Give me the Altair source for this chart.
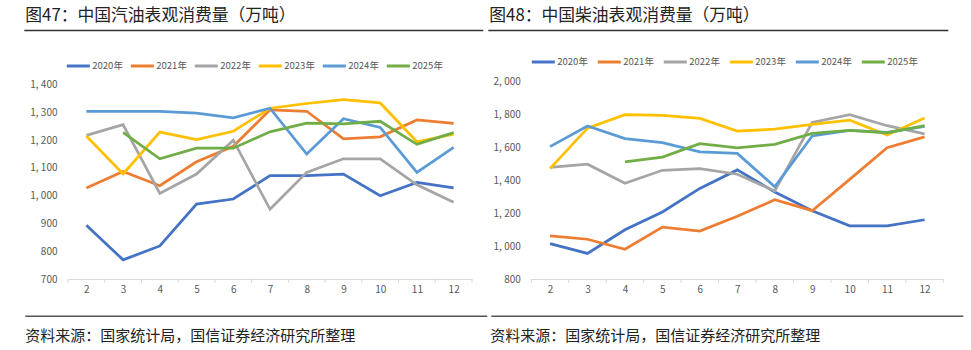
import altair as alt
import pandas as pd

FONT = "Noto Sans CJK SC"

months = [2, 3, 4, 5, 6, 7, 8, 9, 10, 11, 12]
years = ["2020年", "2021年", "2022年", "2023年", "2024年", "2025年"]
colors = ["#4472C4", "#ED7D31", "#A5A5A5", "#FFC000", "#5B9BD5", "#70AD47"]

# 汽油表观消费量（万吨）
g2020 = [894, 769, 819, 970, 988, 1072, 1072, 1078, 1000, 1048, 1028]
g2021 = [1028, 1087, 1036, 1122, 1178, 1309, 1304, 1205, 1212, 1273, 1260]
g2022 = [1217, 1256, 1008, 1078, 1200, 951, 1084, 1133, 1133, 1039, 976]
g2023 = [1215, 1078, 1229, 1202, 1232, 1315, 1332, 1346, 1334, 1194, 1222]
g2024 = [1304, 1304, 1304, 1297, 1280, 1315, 1150, 1277, 1246, 1084, 1174]
g2025 = [None, 1228, 1133, 1171, 1171, 1230, 1261, 1259, 1268, 1185, 1227]

# 柴油表观消费量（万吨）
d2020 = [1014, 955, 1098, 1206, 1349, 1461, 1327, 1214, 1122, 1122, 1159]
d2021 = [1061, 1041, 980, 1114, 1090, 1180, 1280, 1214, 1404, 1596, 1661]
d2022 = [1476, 1496, 1380, 1459, 1469, 1435, 1333, 1749, 1796, 1729, 1680]
d2023 = [1469, 1714, 1796, 1792, 1773, 1696, 1708, 1737, 1763, 1673, 1776]
d2024 = [1602, 1727, 1651, 1627, 1571, 1561, 1359, 1667, 1700, 1688, 1725]
d2025 = [None, None, 1510, 1539, 1620, 1594, 1616, 1682, 1700, 1686, 1730]

gas_ticks = [700, 800, 900, 1000, 1100, 1200, 1300, 1400]
diesel_ticks = [800, 1000, 1200, 1400, 1600, 1800, 2000]

title_left = "图47：中国汽油表观消费量（万吨）"
title_right = "图48：中国柴油表观消费量（万吨）"
source_text = "资料来源：国家统计局，国信证券经济研究所整理"

boundaries = [m - 0.5 for m in months] + [months[-1] + 0.5]


def long_df(series):
    rows = []
    for y, vals in zip(years, series):
        for m, v in zip(months, vals):
            if v is not None:
                rows.append({"month": m, "value": v, "year": y})
    return pd.DataFrame(rows)


def panel(df, ydomain, yvals, w, h, title, tpos, legend_xy):
    xscale = alt.Scale(domain=[boundaries[0], boundaries[-1]], nice=False, zero=False)
    xaxis = alt.Axis(values=months, ticks=False, grid=False, title=None,
                     domainColor="#D9D9D9", domainWidth=1,
                     labelColor="#595959", labelFontSize=10,
                     labelPadding=5, format="d", labelFont=FONT)
    lines = alt.Chart(df).mark_line(strokeWidth=2.75).encode(
        x=alt.X("month:Q", scale=xscale, axis=xaxis),
        y=alt.Y("value:Q", scale=alt.Scale(domain=ydomain, nice=False, zero=False),
                axis=alt.Axis(values=yvals, domain=False, ticks=False, grid=False,
                              title=None, labelColor="#595959", labelFontSize=10,
                              labelPadding=11, labelFont=FONT,
                              labelExpr="replace(format(datum.value, ','), ',', ', ')")),
        color=alt.Color("year:N", scale=alt.Scale(domain=years, range=colors),
                        legend=alt.Legend(orient="none", legendX=legend_xy[0],
                                          legendY=legend_xy[1], direction="horizontal",
                                          title=None, symbolType="stroke",
                                          symbolStrokeWidth=3, symbolSize=529,
                                          labelFontSize=9.5, labelColor="#595959",
                                          labelFont=FONT, labelOffset=1,
                                          columnPadding=legend_xy[2], padding=0)),
        order=alt.Order("month:Q"),
    )
    ticks = alt.Chart(pd.DataFrame({"month": boundaries})).mark_rule(
        color="#D9D9D9", strokeWidth=1
    ).encode(
        x=alt.X("month:Q", scale=xscale, axis=xaxis),
        y=alt.value(h), y2=alt.value(h + 4),
    )
    tx, ty, rx1, rx2, ry, fx1, fx2, fy, sx, sy = tpos
    ttl = alt.Chart(pd.DataFrame({"t": [title]})).mark_text(
        align="left", baseline="middle", fontSize=16.8, font=FONT, color="#222222"
    ).encode(x=alt.value(tx), y=alt.value(ty), text="t:N")
    trule = alt.Chart(pd.DataFrame({"t": [title]})).mark_rule(
        color="#333333", strokeWidth=1.5
    ).encode(x=alt.value(rx1), x2=alt.value(rx2), y=alt.value(ry))
    frule = alt.Chart(pd.DataFrame({"t": [source_text]})).mark_rule(
        color="#555555", strokeWidth=1.5
    ).encode(x=alt.value(fx1), x2=alt.value(fx2), y=alt.value(fy))
    src = alt.Chart(pd.DataFrame({"t": [source_text]})).mark_text(
        align="left", baseline="middle", fontSize=15, font=FONT, color="#222222"
    ).encode(x=alt.value(sx), y=alt.value(sy), text="t:N")
    return alt.layer(ticks, lines, ttl, trule, frule, src).properties(width=w, height=h)


left = panel(long_df([g2020, g2021, g2022, g2023, g2024, g2025]),
             [700, 1413], gas_ticks, 404, 198, title_left,
             (-42.7, -64.8, -43.7, 415.3, -50.6, -42.7, 419.3, 235.2, -42.7, 254.5),
             (-2.7, -28, 1))
right = panel(long_df([d2020, d2021, d2022, d2023, d2024, d2025]),
              [800, 2000], diesel_ticks, 412, 198, title_right,
              (-42, -64.8, -43, 417, -50.6, -40, 432, 235.2, -41, 254.5),
              (-1, -32, 3))

chart = alt.hconcat(left, right, spacing=59.3, bounds="flush").resolve_legend(
    color="independent"
).properties(
    padding={"left": 23, "top": 8, "right": 0, "bottom": 0},
    background="white",
).configure_view(stroke=None)

chart.save("out.html", embed_options={"renderer": "svg", "actions": False})
